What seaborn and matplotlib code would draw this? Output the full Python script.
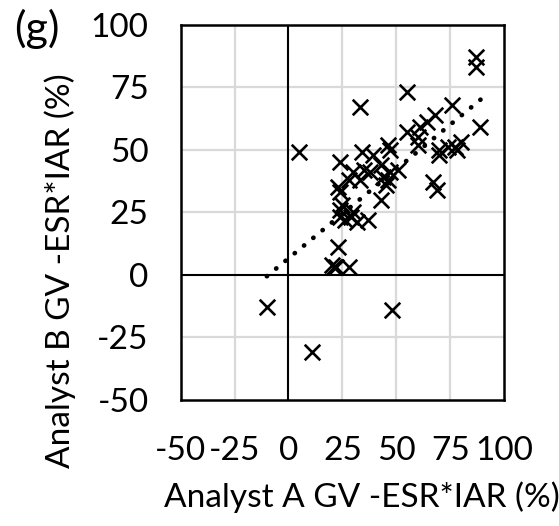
import numpy as np
import pandas as pd
import matplotlib
matplotlib.use("Agg")
import matplotlib.pyplot as plt
import seaborn as sns

# Paired estimates from the two analysts (%)
analyst_a = [87, 87, 55, 33, 76, 89, 68, 64, 61, 55, 60, 60, 80, 77, 74, 70,
             70, 78, 5, 24, 34, 39, 46, 47, 30, 35, 38, 43, 47, 51, 46, 45,
             44, 23, 24, 28, 33, 43, 67, 69, 24, 25, 30, 24, 29, 32, 37, 26,
             23, 20, 21, 22, 28, -10, 48, 11]
analyst_b = [87, 83, 73, 67, 68, 59, 64, 61, 59, 57, 55, 52, 53, 51, 51, 50,
             48, 50, 49, 45, 49, 48, 52, 50, 41, 42, 41, 44, 41, 42, 38, 36,
             39, 35, 33, 38, 38, 30, 37, 34, 26, 28, 25, 23, 23, 21, 22, 22,
             11, 4, 3, 3, 3, -13, -14, -31]

tick_values = [-50, -25, 0, 25, 50, 75, 100]
tick_labels = [str(v) for v in tick_values]
x_title = "Analyst A GV -ESR*IAR (%)"
y_title = "Analyst B GV -ESR*IAR (%)"
panel_tag = "(g)"

df = pd.DataFrame({"a": analyst_a, "b": analyst_b})

sns.set_theme(style="white")
plt.rcParams["font.family"] = ["Lato", "DejaVu Sans"]
FS = 24

fig = plt.figure(figsize=(5.59, 5.26), dpi=100)
ax = fig.add_axes([0.323, 0.240, 0.579, 0.713])

# light grid
for v in tick_values[1:-1]:
    if v == 0:
        continue
    ax.axvline(v, color="#d9d9d9", lw=1.6, zorder=0)
    ax.axhline(v, color="#d9d9d9", lw=1.6, zorder=0)

# zero lines
ax.axvline(0, color="black", lw=1.5, zorder=1)
ax.axhline(0, color="black", lw=1.5, zorder=1)

sns.scatterplot(data=df, x="a", y="b", marker="x", s=125, linewidth=1.9,
                color="black", ax=ax, zorder=3)

# linear trend over the data range
slope, intercept = np.polyfit(df["a"], df["b"], 1)
xs = np.linspace(df["a"].min(), df["a"].max(), 50)
ax.plot(xs, slope * xs + intercept, color="black", lw=3.4,
        linestyle=(0, (0.05, 2.5)), dash_capstyle="round",
        solid_capstyle="round", zorder=4)

ax.set_xlim(-50, 100)
ax.set_ylim(-50, 100)
ax.set_xticks(tick_values)
ax.set_xticklabels(tick_labels)
ax.set_yticks(tick_values)
ax.set_yticklabels(tick_labels)
ax.tick_params(axis="both", length=0, labelsize=FS, colors="black")
ax.tick_params(axis="x", pad=26)
ax.tick_params(axis="y", pad=23)

for sp in ax.spines.values():
    sp.set_visible(True)
    sp.set_color("black")
    sp.set_linewidth(1.8)

ax.set_xlabel(x_title, fontsize=FS, color="black", va="center")
ax.set_ylabel(y_title, fontsize=FS, color="black", va="center")
ax.xaxis.set_label_coords(0.56, -0.259)
ax.yaxis.set_label_coords(-0.373, 0.345)

fig.text(14 / 559, 1 - 29 / 526, panel_tag, fontsize=31, va="center",
         ha="left", color="black")

fig.savefig("out.png", dpi=100)
